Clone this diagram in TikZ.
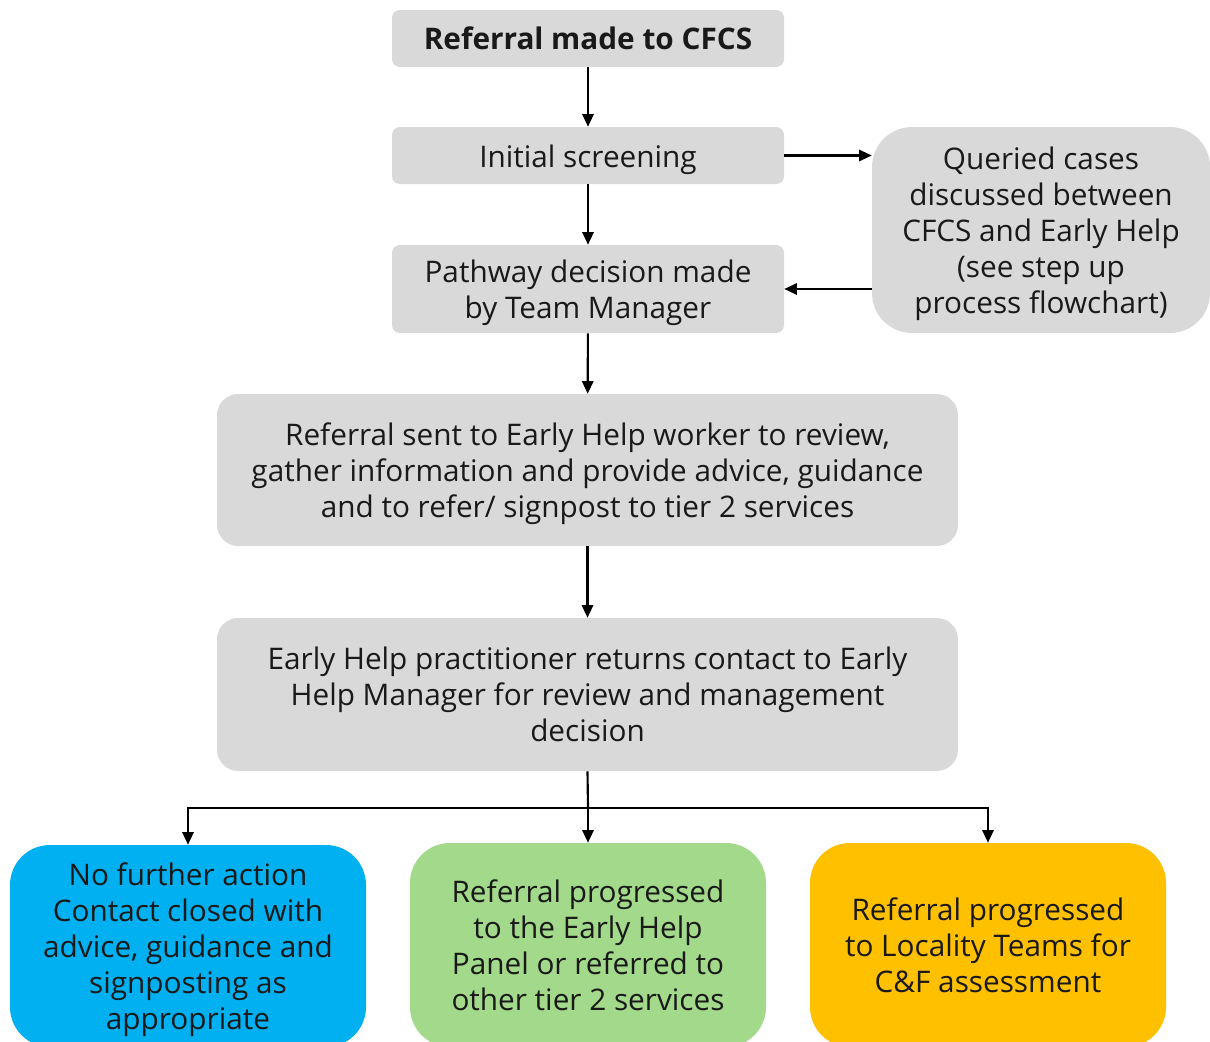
\documentclass[tikz,border=0pt]{standalone}
\usepackage{fontspec}
\setmainfont{Open Sans}
\usetikzlibrary{arrows.meta}
\definecolor{boxgray}{HTML}{D9D9D9}
\definecolor{nfablue}{HTML}{00B0F0}
\definecolor{panelgreen}{HTML}{A3D98A}
\definecolor{localorange}{HTML}{FFC000}
\begin{document}
\begin{tikzpicture}[x=0.75pt,y=-0.75pt,
  every node/.style={inner sep=0pt},
  txt/.style={font=\fontsize{22.3}{27}\selectfont, text=black!90, align=center},
  flowbox/.style={fill=boxgray, rectangle, rounded corners=#1},
  flowbox/.default=6pt,
  outcome/.style={fill=#1, rectangle, rounded corners=30pt, minimum width=267pt, minimum height=153pt},
  flow/.style={line width=1.6pt, -{Triangle[length=9.5pt,width=8.5pt]}},
  link/.style={line width=1.6pt}]
\useasboundingbox (0,0) rectangle (1210,1042);
\clip (0,0) rectangle (1210,1042);

% main column boxes
\node[flowbox, minimum width=294pt, minimum height=42.75pt] (ref) at (588,38.5) {};
\node[flowbox, minimum width=294pt, minimum height=42.75pt] (screen) at (588,155.5) {};
\node[flowbox, minimum width=294pt, minimum height=66pt] (path) at (588,289) {};
\node[flowbox=30pt, minimum width=253.5pt, minimum height=154.5pt] (query) at (1041,230) {};
\node[flowbox=16pt, minimum width=555.75pt, minimum height=114pt] (review) at (587.5,470) {};
\node[flowbox=16pt, minimum width=555.75pt, minimum height=114.75pt] (decide) at (587.5,694.5) {};

% outcome boxes
\node[outcome=nfablue, minimum height=151.5pt] (nfa) at (188,946) {};
\node[outcome=panelgreen] (panel) at (588,945) {};
\node[outcome=localorange] (locality) at (988,945) {};

% box texts
\node[txt] (ref-t) at (ref.center) {\textbf{Referral made to CFCS}};
\node[txt, yshift=-3pt] (screen-t) at (screen.center) {Initial screening};
\node[txt, yshift=-2.5pt] (path-t) at (path.center) {Pathway decision made\\by Team Manager};
\node[txt, yshift=-3pt] (query-t) at (query.center)
  {Queried cases\\discussed between\\CFCS and Early Help\\(see step up\\process flowchart)};
\node[txt, yshift=-3pt] (review-t) at (review.center)
  {Referral sent to Early Help worker to review,\\gather information and provide advice, guidance\\and to refer/ signpost to tier 2 services};
\node[txt] (decide-t) at (decide.center)
  {Early Help practitioner returns contact to Early\\Help Manager for review and management\\decision};
\node[txt, yshift=-3pt] (nfa-t) at (nfa.center)
  {No further action\\Contact closed with\\advice, guidance and\\signposting as\\appropriate};
\node[txt] (panel-t) at (panel.center)
  {Referral progressed\\to the Early Help\\Panel or referred to\\other tier 2 services};
\node[txt] (locality-t) at (locality.center)
  {Referral progressed\\to Locality Teams for\\C\&F assessment};

% connectors
\draw[flow] (ref) -- (screen);
\draw[flow] (screen) -- (path);
\draw[flow] (screen.east) -- (query.west |- screen.east);
\draw[flow] (query.west |- path) -- (path.east);
\draw[flow] (path) -- (review);
\draw[flow] (review) -- (decide);

\coordinate (split) at (588,808);
\draw[link] (decide.south) -- (split);
\draw[flow] (split) -| (nfa.north);
\draw[flow] (split) -- (panel.north);
\draw[flow] (split) -| (locality.north);
\end{tikzpicture}
\end{document}
